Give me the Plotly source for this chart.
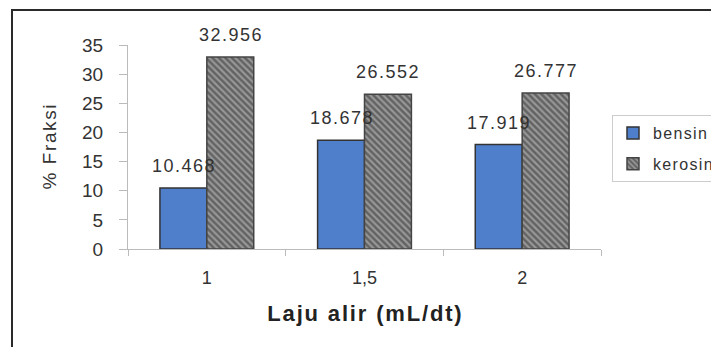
import plotly.graph_objects as go

categories = ["1", "1,5", "2"]
bensin = [10.468, 18.678, 17.919]
kerosin = [32.956, 26.552, 26.777]
bensin_labels = ["10.468", "18.678", "17.919"]
kerosin_labels = ["32.956", "26.552", "26.777"]
series_names = ["bensin", "kerosin"]
x_title = "Laju alir (mL/dt)"
y_title = "% Fraksi"

HS = "\u200a"  # hair space used as letter spacing


def spaced(s):
    return HS.join(list(s))


OFF = 8  # page body margin
W, H = 719, 347
# plot area in screen coordinates
SL, SR, ST, SB = 128, 601, 45, 249
L, R, T, B = SL - OFF, SR - OFF, ST - OFF, SB - OFF
pw, ph = R - L, B - T

font = "Liberation Sans, Arial, sans-serif"


def px(x):
    return (x - OFF - L) / pw


def py(y):
    return (B - (y - OFF)) / ph


fig = go.Figure()
fig.add_trace(go.Bar(
    name=spaced(series_names[0]), x=categories, y=bensin, legendgroup="a",
    marker=dict(color="#4F7FCB", line=dict(color="#333333", width=1.5)),
))
fig.add_trace(go.Bar(
    name=spaced(series_names[1]), x=categories, y=kerosin, legendgroup="b",
    marker=dict(color="#959595", line=dict(color="#444444", width=1.5),
                pattern=dict(shape="\\", fgcolor="#2c2c2c", bgcolor="#9a9a9a",
                             size=4.6, solidity=0.55)),
))

cat_w = pw / len(categories)
bar_w = cat_w * (1 - 0.405) / 2
for vals, labs, sh in ((bensin, bensin_labels, -bar_w / 2),
                       (kerosin, kerosin_labels, bar_w / 2)):
    for i, (v, t) in enumerate(zip(vals, labs)):
        fig.add_annotation(x=i, y=v, text=spaced(t), showarrow=False,
                           xref="x", yref="y", yanchor="bottom",
                           xshift=sh, yshift=10,
                           font=dict(size=18, color="#333333", family=font))

fig.add_shape(type="rect", xref="paper", yref="paper",
              x0=px(12), x1=px(740), y0=py(370), y1=py(10),
              line=dict(color="#2a2a2a", width=2), layer="below")

fig.update_layout(
    width=W, height=H,
    margin=dict(l=L, r=W - R, t=T, b=H - B, autoexpand=False),
    paper_bgcolor="white", plot_bgcolor="white",
    barmode="group", bargap=0.405, bargroupgap=0,
    font=dict(family=font, size=18, color="#333333"),
    showlegend=True,
    legend=dict(x=px(612), y=py(115), xanchor="left", yanchor="top",
                bordercolor="#cccccc", borderwidth=1, bgcolor="white",
                font=dict(size=16, color="#333333"), tracegroupgap=7,
                itemwidth=30),
    xaxis=dict(type="category", tickson="boundaries", ticks="outside",
               ticklen=6, tickcolor="#bbbbbb", showline=True,
               linecolor="#bbbbbb", linewidth=1, showgrid=False,
               ticklabelstandoff=12,
               tickfont=dict(size=18, color="#333333"),
               title=dict(text="<b>" + spaced(x_title) + "</b>",
                          font=dict(size=22, color="#222222"), standoff=19)),
    yaxis=dict(range=[0, 35], dtick=5, ticks="outside", ticklen=8,
               tickcolor="#bbbbbb", showline=True, linecolor="#bbbbbb",
               linewidth=1, showgrid=False, zeroline=False,
               ticklabelstandoff=12,
               tickfont=dict(size=19, color="#333333"),
               title=dict(text=spaced(y_title), font=dict(size=19, color="#333333"),
                          standoff=20)),
)

fig.write_html("out.html")
